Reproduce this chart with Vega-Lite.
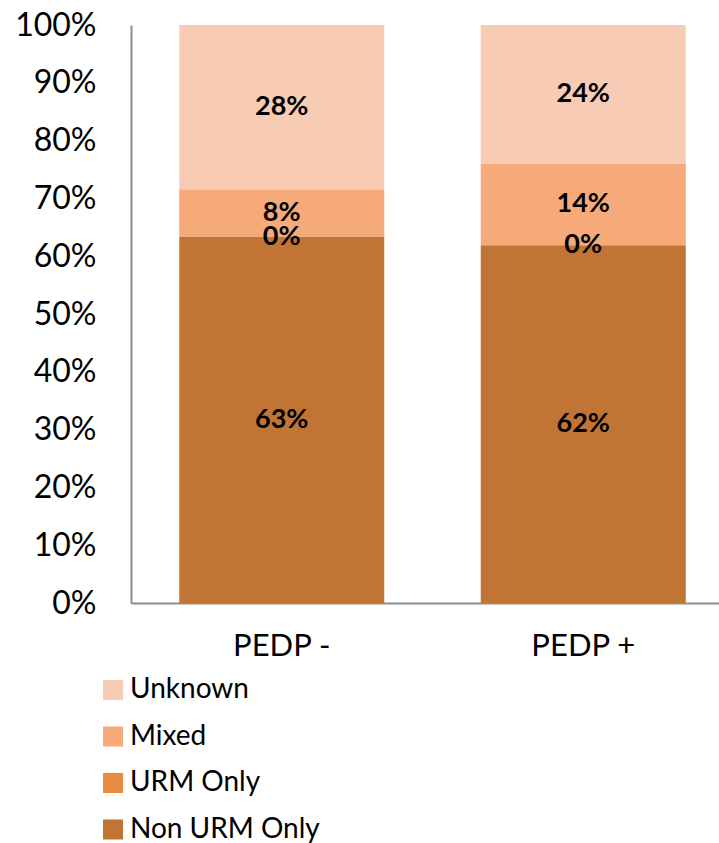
{
  "$schema": "https://vega.github.io/schema/vega-lite/v6.json",
  "width": 603,
  "height": 578,
  "autosize": {"type": "none"},
  "padding": {"left": 131, "top": 25, "right": 0, "bottom": 240},
  "background": "white",
  "config": {
    "view": {"stroke": null},
    "font": "Lato"
  },
  "data": {
    "values": [
      {"group": "PEDP -", "cat": "Non URM Only", "ord": 1, "v": 0.634},
      {"group": "PEDP -", "cat": "URM Only", "ord": 2, "v": 0.0},
      {"group": "PEDP -", "cat": "Mixed", "ord": 3, "v": 0.082},
      {"group": "PEDP -", "cat": "Unknown", "ord": 4, "v": 0.284},
      {"group": "PEDP +", "cat": "Non URM Only", "ord": 1, "v": 0.619},
      {"group": "PEDP +", "cat": "URM Only", "ord": 2, "v": 0.0},
      {"group": "PEDP +", "cat": "Mixed", "ord": 3, "v": 0.141},
      {"group": "PEDP +", "cat": "Unknown", "ord": 4, "v": 0.240}
    ]
  },
  "transform": [
    {"stack": "v", "groupby": ["group"], "sort": [{"field": "ord"}], "as": ["v0", "v1"]},
    {"calculate": "(datum.v0 + datum.v1) / 2", "as": "vmid"}
  ],
  "encoding": {
    "x": {
      "field": "group",
      "type": "nominal",
      "sort": ["PEDP -", "PEDP +"],
      "scale": {"paddingInner": 0.32, "paddingOuter": 0.16},
      "axis": {
        "title": null,
        "labelAngle": 0,
        "labelFontSize": 31,
        "labelColor": "#000000",
        "labelPadding": 28,
        "ticks": false,
        "domainColor": "#8c8c8c",
        "domainWidth": 2
      }
    }
  },
  "layer": [
    {
      "mark": {"type": "bar"},
      "encoding": {
        "y": {
          "field": "v0",
          "type": "quantitative",
          "scale": {"domain": [0, 1], "nice": false},
          "axis": {
            "title": null,
            "format": ".0%",
            "values": [0, 0.1, 0.2, 0.3, 0.4, 0.5, 0.6, 0.7, 0.8, 0.9, 1.0],
            "grid": false,
            "ticks": false,
            "labelFontSize": 32,
            "labelColor": "#000000",
            "labelPadding": 35,
            "domainColor": "#8c8c8c",
            "domainWidth": 2
          }
        },
        "y2": {"field": "v1"},
        "color": {
          "field": "cat",
          "type": "nominal",
          "scale": {
            "domain": ["Unknown", "Mixed", "URM Only", "Non URM Only"],
            "range": ["#F8CBB4", "#F6AA7A", "#E88C44", "#C07535"]
          },
          "legend": {
            "title": null,
            "orient": "none",
            "legendX": -32,
            "legendY": 651,
            "direction": "vertical",
            "symbolType": "square",
            "symbolSize": 400,
            "symbolStrokeWidth": 0,
            "labelFontSize": 28,
            "labelColor": "#000000",
            "labelOffset": 3,
            "rowPadding": 18.5,
            "labelLimit": 400
          }
        }
      }
    },
    {
      "mark": {"type": "text", "fontSize": 27, "fontWeight": "bold", "color": "#000000", "baseline": "middle"},
      "encoding": {
        "y": {"field": "vmid", "type": "quantitative"},
        "text": {"field": "v", "type": "quantitative", "format": ".0%"}
      }
    }
  ]
}
